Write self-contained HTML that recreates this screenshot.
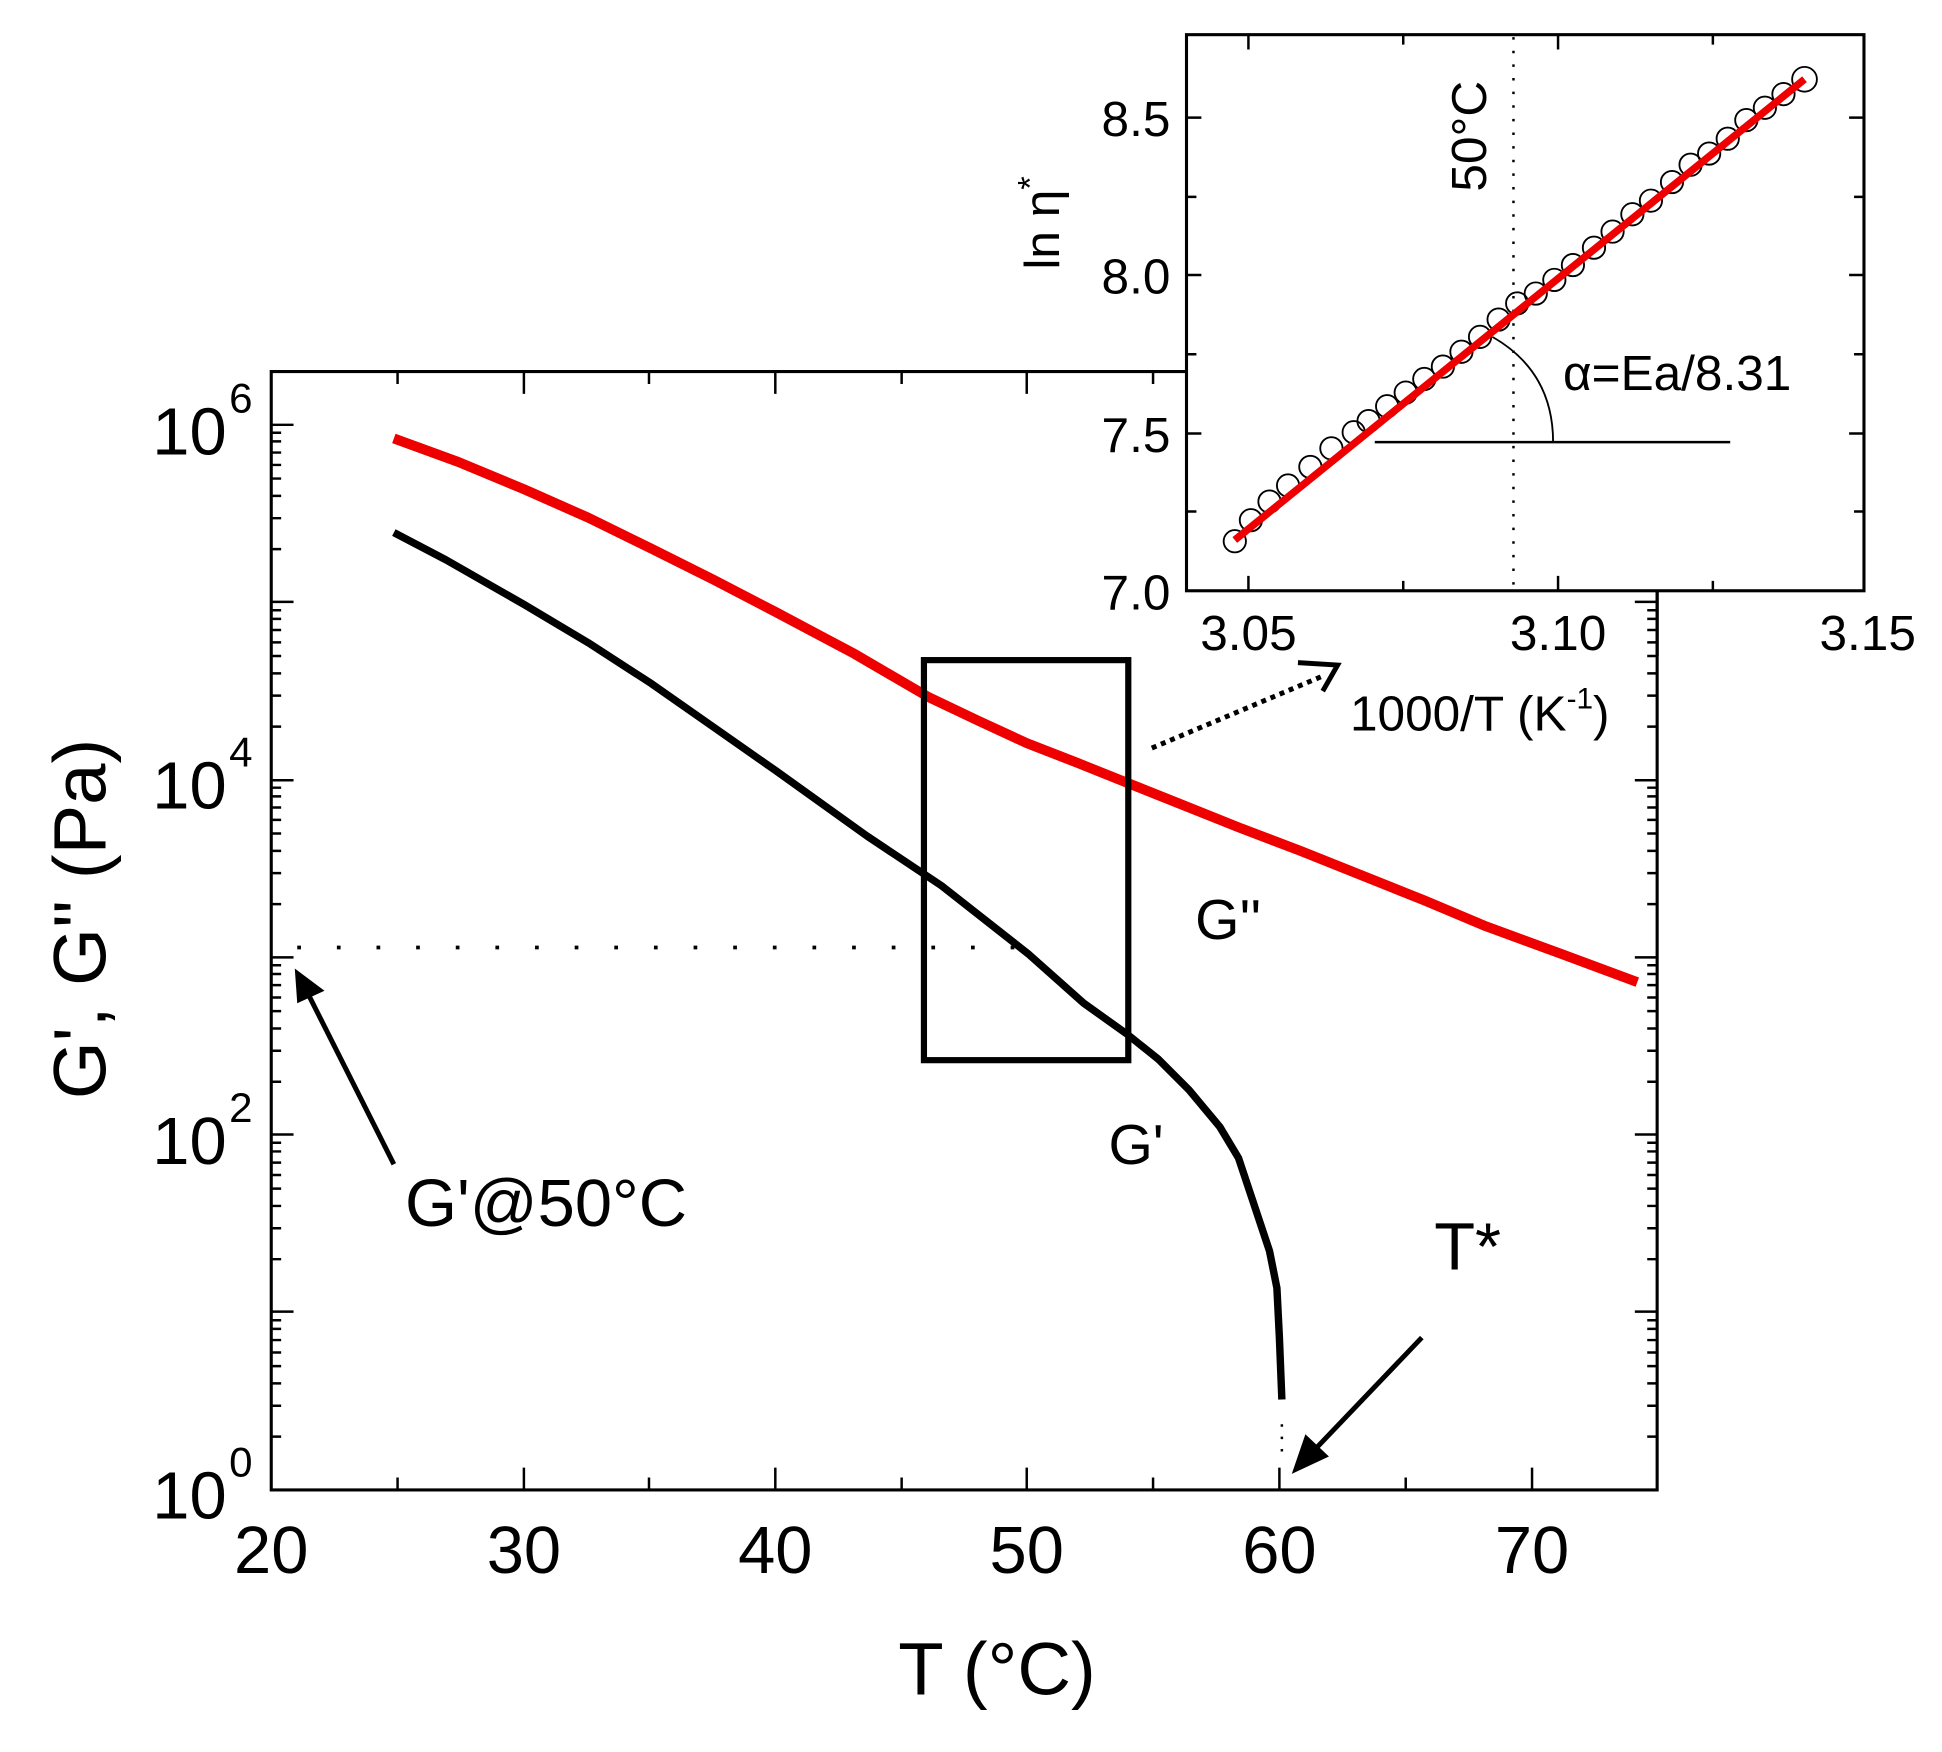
<!DOCTYPE html>
<html><head><style>html,body{margin:0;padding:0;background:#fff}svg{display:block}</style></head>
<body>
<svg width="1942" height="1752" viewBox="0 0 1568 1414.6" xmlns="http://www.w3.org/2000/svg" font-family="Liberation Sans, sans-serif">
<rect width="1568" height="1415" fill="#fff"/>
<rect x="219" y="300" width="1119" height="903" fill="none" stroke="#000" stroke-width="2.5"/>
<g stroke="#000" stroke-width="2">
<path d="M321,1203v-10M423,1203v-18M524,1203v-10M626,1203v-18M728,1203v-10M829,1203v-18M931,1203v-10M1033,1203v-18M1135,1203v-10M1237,1203v-18"/>
<path d="M321,300v10M423,300v18M524,300v10M626,300v18M728,300v10M829,300v18M931,300v10"/>
<path d="M219,343h18M219,486h18M219,630h18M219,773h18M219,916h18M219,1059h18M1338,343h-18M1338,486h-18M1338,630h-18M1338,773h-18M1338,916h-18M1338,1059h-18"/>
<path id="mn" d="M219,1160h8M219,1135h8M219,1117h8M219,1103h8M219,1092h8M219,1082h8M219,1073h8M219,1066h8"/>
<use href="#mn" y="-143.3"/><use href="#mn" y="-286.6"/><use href="#mn" y="-430"/><use href="#mn" y="-573.3"/><use href="#mn" y="-716.6"/>
<g transform="translate(1557,0) scale(-1,1)"><use href="#mn"/><use href="#mn" y="-143.3"/><use href="#mn" y="-286.6"/><use href="#mn" y="-430"/><use href="#mn" y="-573.3"/><use href="#mn" y="-716.6"/></g>
</g>
<g font-size="54" text-anchor="middle">
<text x="219" y="1270">20</text><text x="423" y="1270">30</text><text x="626" y="1270">40</text><text x="829" y="1270">50</text><text x="1033" y="1270">60</text><text x="1237" y="1270">70</text>
</g>
<g font-size="54" text-anchor="end">
<text x="183" y="367">10</text><text x="183" y="653">10</text><text x="183" y="940">10</text><text x="183" y="1226">10</text>
</g>
<g font-size="34"><text x="185" y="333">6</text><text x="185" y="619">4</text><text x="185" y="906">2</text><text x="185" y="1192">0</text></g>
<text transform="translate(85,742) rotate(-90)" font-size="60" text-anchor="middle">G', G'' (Pa)</text>
<text x="805" y="1368" font-size="60" text-anchor="middle">T (°C)</text>
<line x1="240" y1="765" x2="830" y2="765" stroke="#000" stroke-width="3" stroke-dasharray="3,29"/>
<polyline fill="none" stroke="#e00" stroke-width="8" stroke-linejoin="round" points="318,354 370,373 423,395 475,418 526,443 576,468 626,494 690,528 750,563 790,582 829,600 870,616 910,632 955,650 1000,668 1050,687 1100,707 1150,727 1200,748 1260,770 1322,793"/>
<polyline fill="none" stroke="#000" stroke-width="6" stroke-linejoin="round" points="318,430 360,452 423,488 475,519 526,552 576,587 626,622 700,675 760,715 830,770 875,810 910,835 935,855 960,880 985,910 1000,935 1015,980 1025,1010 1031,1040 1033,1080 1035,1130"/>
<line x1="1035" y1="1150" x2="1035" y2="1180" stroke="#000" stroke-width="2" stroke-dasharray="2,8"/>
<rect x="746" y="533" width="165" height="323" fill="none" stroke="#000" stroke-width="5"/>
<line x1="318" y1="940" x2="250" y2="805" stroke="#000" stroke-width="4"/>
<polygon points="238,782 262,800 240,810" fill="#000"/>
<line x1="1148" y1="1080" x2="1062" y2="1170" stroke="#000" stroke-width="4"/>
<polygon points="1043,1190 1054,1158 1073,1176" fill="#000"/>
<line x1="930" y1="604" x2="1070" y2="545" stroke="#000" stroke-width="4" stroke-dasharray="4,4"/>
<polyline points="1048,535 1080,537 1068,558" fill="none" stroke="#000" stroke-width="4"/>
<g font-size="46"><text x="965" y="758">G''</text><text x="895" y="940">G'</text></g>
<text x="327" y="990" font-size="54">G'@50°C</text>
<text x="1158" y="1025" font-size="54">T*</text>
<rect x="958" y="28" width="547" height="449" fill="#fff" stroke="#000" stroke-width="2.5"/>
<g stroke="#000" stroke-width="2">
<path d="M1008,477v-12M1133,477v-8M1258,477v-12M1383,477v-8M1008,28v12M1133,28v8M1258,28v12M1383,28v8"/>
<path d="M958,95h12M958,222h12M958,350h12M958,159h8M958,286h8M958,413h8M1505,95h-12M1505,222h-12M1505,350h-12M1505,159h-8M1505,286h-8M1505,413h-8"/>
</g>
<line x1="1222" y1="30" x2="1222" y2="477" stroke="#000" stroke-width="2" stroke-dasharray="2,9"/>
<g font-size="40">
<text x="945" y="110" text-anchor="end">8.5</text><text x="945" y="237" text-anchor="end">8.0</text><text x="945" y="365" text-anchor="end">7.5</text><text x="945" y="492" text-anchor="end">7.0</text>
<text x="1008" y="525" text-anchor="middle">3.05</text><text x="1258" y="525" text-anchor="middle">3.10</text><text x="1508" y="525" text-anchor="middle">3.15</text>
<text x="1090" y="590">1000/T (K<tspan font-size="24" dy="-18">-1</tspan><tspan dy="18">)</tspan></text>
<text x="1262" y="315">α=Ea/8.31</text>
<text transform="translate(1200,110) rotate(-90)" text-anchor="middle">50°C</text>
<text transform="translate(855,180) rotate(-90)" text-anchor="middle">ln η<tspan font-size="28" dy="-14">*</tspan></text>
</g>
<line x1="1110" y1="357" x2="1397" y2="357" stroke="#000" stroke-width="2"/>
<path d="M1205,272 Q1254,300 1254,357" fill="none" stroke="#000" stroke-width="1.5"/>
<g fill="none" stroke="#000" stroke-width="1.5">
<circle cx="997" cy="437" r="9"/><circle cx="1010" cy="420" r="9"/><circle cx="1025" cy="405" r="9"/><circle cx="1040" cy="392" r="9"/><circle cx="1058" cy="377" r="9"/><circle cx="1075" cy="362" r="9"/><circle cx="1093" cy="349" r="9"/><circle cx="1105" cy="340" r="9"/><circle cx="1120" cy="328" r="9"/><circle cx="1135" cy="317" r="9"/><circle cx="1150" cy="306" r="9"/><circle cx="1165" cy="296" r="9"/><circle cx="1180" cy="284" r="9"/><circle cx="1195" cy="272" r="9"/><circle cx="1210" cy="258" r="9"/><circle cx="1225" cy="245" r="9"/><circle cx="1240" cy="237" r="9"/><circle cx="1255" cy="226" r="9"/><circle cx="1270" cy="214" r="9"/><circle cx="1287" cy="200" r="9"/><circle cx="1302" cy="187" r="9"/><circle cx="1318" cy="173" r="9"/><circle cx="1333" cy="162" r="9"/><circle cx="1350" cy="147" r="9"/><circle cx="1365" cy="133" r="9"/><circle cx="1380" cy="124" r="9"/><circle cx="1395" cy="112" r="9"/><circle cx="1410" cy="97" r="9"/><circle cx="1425" cy="87" r="9"/><circle cx="1440" cy="76" r="9"/><circle cx="1457" cy="64" r="10"/>
</g>
<line x1="997" y1="436" x2="1457" y2="64" stroke="#e00" stroke-width="6"/>
<line x1="1338" y1="477" x2="1338" y2="530" stroke="#000" stroke-width="2.5"/>
</svg>
</body></html>
